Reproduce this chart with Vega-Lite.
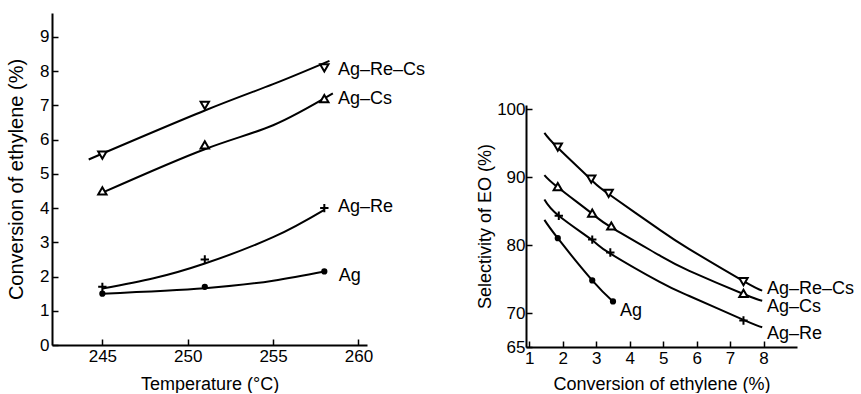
{
  "$schema": "https://vega.github.io/schema/vega-lite/v6.json",
  "padding": {"left": 6, "top": 13, "right": 0, "bottom": 0},
  "background": "white",
  "spacing": 50,
  "config": {
    "view": {"stroke": null},
    "font": "Liberation Sans",
    "axis": {
      "grid": false,
      "labelFont": "Liberation Sans",
      "labelFontSize": 17,
      "labelColor": "black",
      "labelOverlap": false,
      "labelBound": false,
      "titleFont": "Liberation Sans",
      "titleFontSize": 18,
      "titleFontWeight": "normal",
      "titleColor": "black",
      "domainColor": "black",
      "domainWidth": 2,
      "tickColor": "black",
      "tickWidth": 1.5,
      "tickSize": -6,
      "labelPadding": 9
    }
  },
  "datasets": {
    "curvesL": [
      {"cat": "Ag-Re-Cs", "t": 244.2, "c": 5.42},
      {"cat": "Ag-Re-Cs", "t": 251, "c": 6.85},
      {"cat": "Ag-Re-Cs", "t": 255, "c": 7.62},
      {"cat": "Ag-Re-Cs", "t": 258.3, "c": 8.3},
      {"cat": "Ag-Cs", "t": 245, "c": 4.45},
      {"cat": "Ag-Cs", "t": 251, "c": 5.72},
      {"cat": "Ag-Cs", "t": 255, "c": 6.42},
      {"cat": "Ag-Cs", "t": 258.5, "c": 7.35},
      {"cat": "Ag-Re", "t": 245, "c": 1.65},
      {"cat": "Ag-Re", "t": 248, "c": 1.95},
      {"cat": "Ag-Re", "t": 251, "c": 2.38},
      {"cat": "Ag-Re", "t": 255, "c": 3.15},
      {"cat": "Ag-Re", "t": 258, "c": 3.95},
      {"cat": "Ag", "t": 245, "c": 1.5},
      {"cat": "Ag", "t": 251, "c": 1.66},
      {"cat": "Ag", "t": 255, "c": 1.88},
      {"cat": "Ag", "t": 258, "c": 2.15}
    ],
    "markersL": [
      {"cat": "Ag-Re-Cs", "t": 245, "c": 5.55},
      {"cat": "Ag-Re-Cs", "t": 251, "c": 7.0},
      {"cat": "Ag-Re-Cs", "t": 258, "c": 8.1},
      {"cat": "Ag-Cs", "t": 245, "c": 4.5},
      {"cat": "Ag-Cs", "t": 251, "c": 5.85},
      {"cat": "Ag-Cs", "t": 258, "c": 7.2},
      {"cat": "Ag-Re", "t": 245, "c": 1.7},
      {"cat": "Ag-Re", "t": 251, "c": 2.5},
      {"cat": "Ag-Re", "t": 258, "c": 4.0},
      {"cat": "Ag", "t": 245, "c": 1.5},
      {"cat": "Ag", "t": 251, "c": 1.7},
      {"cat": "Ag", "t": 258, "c": 2.15}
    ],
    "labelsL": [
      {"label": "Ag–Re–Cs", "t": 258.8, "c": 8.04},
      {"label": "Ag–Cs", "t": 258.8, "c": 7.19},
      {"label": "Ag–Re", "t": 258.8, "c": 4.03},
      {"label": "Ag", "t": 258.85, "c": 2.02}
    ],
    "curvesR": [
      {"cat": "Ag-Re-Cs", "x": 1.45, "s": 96.5},
      {"cat": "Ag-Re-Cs", "x": 1.85, "s": 94.3},
      {"cat": "Ag-Re-Cs", "x": 2.85, "s": 89.6},
      {"cat": "Ag-Re-Cs", "x": 3.37, "s": 87.5},
      {"cat": "Ag-Re-Cs", "x": 4.88, "s": 82.3},
      {"cat": "Ag-Re-Cs", "x": 5.78, "s": 79.4},
      {"cat": "Ag-Re-Cs", "x": 7.4, "s": 74.7},
      {"cat": "Ag-Re-Cs", "x": 7.96, "s": 73.3},
      {"cat": "Ag-Cs", "x": 1.45, "s": 90.3},
      {"cat": "Ag-Cs", "x": 1.85, "s": 88.5},
      {"cat": "Ag-Cs", "x": 2.88, "s": 84.6},
      {"cat": "Ag-Cs", "x": 3.45, "s": 82.6},
      {"cat": "Ag-Cs", "x": 4.88, "s": 78.5},
      {"cat": "Ag-Cs", "x": 5.78, "s": 76.2},
      {"cat": "Ag-Cs", "x": 7.4, "s": 72.8},
      {"cat": "Ag-Cs", "x": 7.96, "s": 71.8},
      {"cat": "Ag-Re", "x": 1.45, "s": 86.7},
      {"cat": "Ag-Re", "x": 1.88, "s": 84.3},
      {"cat": "Ag-Re", "x": 2.88, "s": 80.7},
      {"cat": "Ag-Re", "x": 3.4, "s": 78.8},
      {"cat": "Ag-Re", "x": 4.88, "s": 74.6},
      {"cat": "Ag-Re", "x": 5.78, "s": 72.5},
      {"cat": "Ag-Re", "x": 7.4, "s": 69.0},
      {"cat": "Ag-Re", "x": 7.96, "s": 67.9},
      {"cat": "Ag", "x": 1.45, "s": 83.7},
      {"cat": "Ag", "x": 1.85, "s": 81.0},
      {"cat": "Ag", "x": 2.88, "s": 74.8},
      {"cat": "Ag", "x": 3.5, "s": 71.7}
    ],
    "markersR": [
      {"cat": "Ag-Re-Cs", "x": 1.85, "s": 94.4},
      {"cat": "Ag-Re-Cs", "x": 2.85, "s": 89.7},
      {"cat": "Ag-Re-Cs", "x": 3.37, "s": 87.6},
      {"cat": "Ag-Re-Cs", "x": 7.4, "s": 74.6},
      {"cat": "Ag-Cs", "x": 1.85, "s": 88.6},
      {"cat": "Ag-Cs", "x": 2.88, "s": 84.7},
      {"cat": "Ag-Cs", "x": 3.45, "s": 82.8},
      {"cat": "Ag-Cs", "x": 7.4, "s": 72.9},
      {"cat": "Ag-Re", "x": 1.88, "s": 84.3},
      {"cat": "Ag-Re", "x": 2.88, "s": 80.8},
      {"cat": "Ag-Re", "x": 3.42, "s": 78.9},
      {"cat": "Ag-Re", "x": 7.4, "s": 68.9},
      {"cat": "Ag", "x": 1.85, "s": 81.0},
      {"cat": "Ag", "x": 2.88, "s": 74.8},
      {"cat": "Ag", "x": 3.5, "s": 71.7}
    ],
    "labelsR": [
      {"label": "Ag–Re–Cs", "x": 8.1, "s": 73.6},
      {"label": "Ag–Cs", "x": 8.1, "s": 70.9},
      {"label": "Ag–Re", "x": 8.1, "s": 66.95},
      {"label": "Ag", "x": 3.71, "s": 70.3}
    ]
  },
  "hconcat": [
    {
      "width": 315,
      "height": 332,
      "encoding": {
        "x": {"field": "t", "type": "quantitative", "scale": {"domain": [242.05, 260.5], "nice": false, "zero": false},
          "axis": {"values": [245, 250, 255, 260], "labelOverlap": false, "format": "d", "title": "Temperature (°C)", "titlePadding": 11}},
        "y": {"field": "c", "type": "quantitative", "scale": {"domain": [0, 9.7], "nice": false},
          "axis": {"values": [0, 1, 2, 3, 4, 5, 6, 7, 8, 9], "labelOverlap": false, "tickCount": 10, "format": "d", "title": "Conversion of ethylene (%)", "titleFontSize": 20, "titlePadding": 13}}
      },
      "layer": [
        {
          "data": {"name": "curvesL"},
          "mark": {"type": "line", "color": "black", "strokeWidth": 2, "interpolate": "natural"},
          "encoding": {"detail": {"field": "cat"}}
        },
        {
          "data": {"name": "markersL"},
          "mark": {"type": "point", "stroke": "black", "strokeWidth": 2, "opacity": 1, "filled": false},
          "encoding": {
            "shape": {"field": "cat", "type": "nominal", "legend": null,
              "scale": {"domain": ["Ag-Re-Cs", "Ag-Cs", "Ag-Re", "Ag"], "range": ["triangle-down", "triangle-up", "M-1,0H1M0,-1V1", "circle"]}},
            "size": {"condition": {"test": "datum.cat === 'Ag'", "value": 18}, "value": 70},
            "fill": {"condition": {"test": "datum.cat === 'Ag'", "value": "black"}, "value": "white"}
          }
        },
        {
          "data": {"name": "labelsL"},
          "mark": {"type": "text", "align": "left", "baseline": "middle", "fontSize": 18, "font": "Liberation Sans", "color": "black"},
          "encoding": {"text": {"field": "label"}}
        }
      ]
    },
    {
      "spacing": 0,
      "vconcat": [
        {
          "width": 271,
          "height": 87,
          "data": {"values": []},
          "mark": {"type": "point"},
          "encoding": {}
        },
        {
          "width": 271,
          "height": 242,
          "encoding": {
            "x": {"field": "x", "type": "quantitative", "scale": {"domain": [0.9, 9.0], "nice": false, "zero": false},
              "axis": {"values": [1, 2, 3, 4, 5, 6, 7, 8], "labelOverlap": false, "tickCount": 8, "format": "d", "title": "Conversion of ethylene (%)", "titlePadding": 9}},
            "y": {"field": "s", "type": "quantitative", "scale": {"domain": [65, 100.6], "nice": false, "zero": false},
              "axis": {"values": [65, 70, 80, 90, 100], "labelOverlap": false, "format": "d", "title": "Selectivity of EO (%)", "titlePadding": 2, "labelPadding": 7}}
          },
          "layer": [
            {
              "data": {"name": "curvesR"},
              "mark": {"type": "line", "color": "black", "strokeWidth": 2, "interpolate": "natural"},
              "encoding": {"detail": {"field": "cat"}}
            },
            {
              "data": {"name": "markersR"},
              "mark": {"type": "point", "stroke": "black", "strokeWidth": 2, "opacity": 1, "filled": false},
              "encoding": {
                "shape": {"field": "cat", "type": "nominal", "legend": null,
                  "scale": {"domain": ["Ag-Re-Cs", "Ag-Cs", "Ag-Re", "Ag"], "range": ["triangle-down", "triangle-up", "M-1,0H1M0,-1V1", "circle"]}},
                "size": {"condition": {"test": "datum.cat === 'Ag'", "value": 18}, "value": 70},
                "fill": {"condition": {"test": "datum.cat === 'Ag'", "value": "black"}, "value": "white"}
              }
            },
            {
              "data": {"name": "labelsR"},
              "mark": {"type": "text", "align": "left", "baseline": "middle", "fontSize": 18, "font": "Liberation Sans", "color": "black"},
              "encoding": {"text": {"field": "label"}}
            }
          ]
        }
      ]
    }
  ]
}
